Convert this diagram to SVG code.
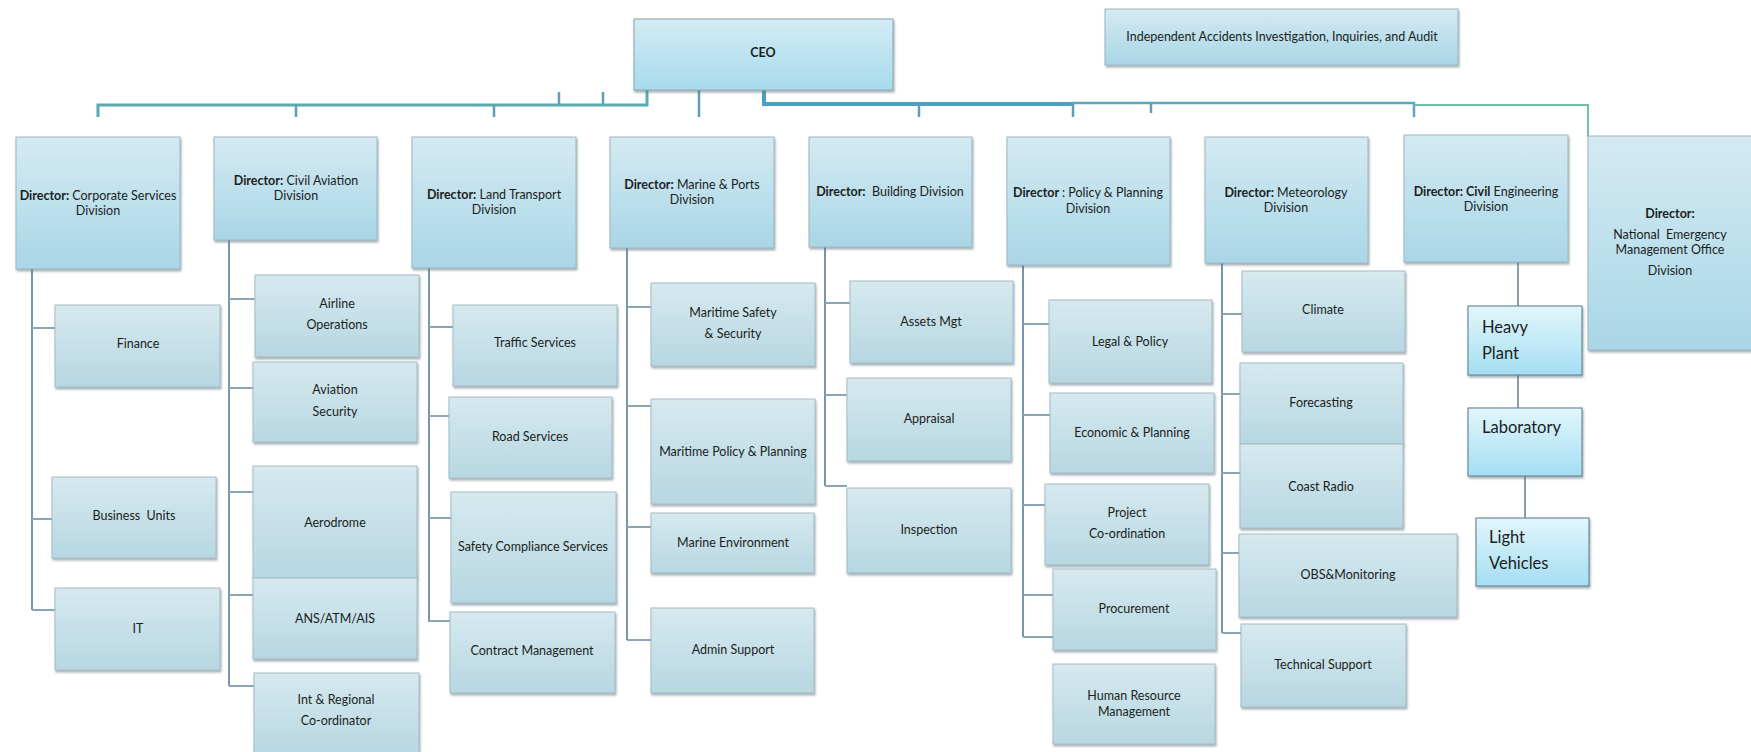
<svg xmlns="http://www.w3.org/2000/svg" width="1751" height="752" viewBox="0 0 1751 752">
<defs>
<linearGradient id="gDir" x1="0" y1="0" x2="0" y2="1"><stop offset="0" stop-color="#d4eaf2"/><stop offset="1" stop-color="#a9d6e7"/></linearGradient>
<linearGradient id="gChild" x1="0" y1="0" x2="0" y2="1"><stop offset="0" stop-color="#d6e9ef"/><stop offset="1" stop-color="#b7d7e2"/></linearGradient>
<linearGradient id="gCeo" x1="0" y1="0" x2="0" y2="1"><stop offset="0" stop-color="#d3ecf5"/><stop offset="1" stop-color="#a7daeb"/></linearGradient>
<linearGradient id="gBright" x1="0" y1="0" x2="0" y2="1"><stop offset="0" stop-color="#e2f6fc"/><stop offset="1" stop-color="#a4def2"/></linearGradient>
<filter id="sh" x="-5%" y="-5%" width="112%" height="115%"><feDropShadow dx="1" dy="2" stdDeviation="1.2" flood-color="#55707c" flood-opacity="0.55"/></filter>
</defs>
<style>
.dir{fill:url(#gDir);stroke:#9fb6c0;stroke-width:1;filter:url(#sh)}
.ch{fill:url(#gChild);stroke:#a7bcc5;stroke-width:1;filter:url(#sh)}
.ceo{fill:url(#gCeo);stroke:#98aeb8;stroke-width:1.2;filter:url(#sh)}
.br{fill:url(#gBright);stroke:#6d8c9c;stroke-width:1.2;filter:url(#sh)}
text{font-family:Lato,"Liberation Sans",sans-serif;fill:#1a1e21}
.t{font-size:12.5px;text-anchor:middle}
.d{font-size:12.5px;text-anchor:middle}
.b{font-weight:bold}
.big{font-size:16.5px;text-anchor:start}
.bus{fill:none;stroke:#5aaab2;stroke-width:3}
.bus2{fill:none;stroke:#4d9fc4;stroke-width:4}
.bus3{fill:none;stroke:#5ea6bf;stroke-width:2.5}
.bus4{fill:none;stroke:#6cc3a5;stroke-width:2}
.tk{fill:none;stroke:#5f9fb0;stroke-width:2.5}
.v{fill:none;stroke:#7497ad;stroke-width:2}
.h{fill:none;stroke:#8aa5b5;stroke-width:2}
.ce{fill:none;stroke:#6a7f8a;stroke-width:1.5}
</style>

<g id="connectors">
<path class="bus" d="M98,117 V105 H647 V90"/>
<path class="tk" d="M296,105 V117 M494,105 V117 M559,92 V104 M603,92 V104"/>
<path class="tk" d="M699,90 V117"/>
<path class="bus2" d="M764,89 V104 H1072"/>
<path class="bus3" d="M1072,103 H1414 V117"/>
<path class="tk" d="M919,104 V117 M1073,104 V117 M1151,103 V113"/>
<path class="bus4" d="M1414,105 H1588 V137"/>
<path class="v" d="M32,269 V610"/>
<path class="h" d="M32,328 H55 M32,519 H52 M32,610 H55"/>
<path class="v" d="M229,240 V686"/>
<path class="h" d="M229,299 H255 M229,388 H253 M229,492 H253 M229,595 H253 M229,686 H254"/>
<path class="v" d="M429,268 V622"/>
<path class="h" d="M429,327 H453 M429,416 H449 M429,518 H451 M429,621 H450"/>
<path class="v" d="M627,248 V640"/>
<path class="h" d="M627,307 H651 M627,406 H651 M627,527 H651 M627,640 H651"/>
<path class="v" d="M825,247 V486"/>
<path class="h" d="M825,303 H850 M825,395 H847 M825,486 H847"/>
<path class="v" d="M1023,265 V637"/>
<path class="h" d="M1023,324 H1049 M1023,415 H1050 M1023,505 H1045 M1023,595 H1053 M1023,637 H1053"/>
<path class="v" d="M1222,263 V633"/>
<path class="h" d="M1222,314 H1242 M1222,394 H1240 M1222,473 H1240 M1222,553 H1239 M1222,633 H1241"/>
<path class="ce" d="M1518,262 V307 M1518,375 V408 M1525,476 V518"/>
</g>

<g id="ceo"><rect class="ceo" x="634" y="19" width="259" height="71"/><text class="t b" x="763" y="57" font-size="12.5px">CEO</text></g>
<g id="independent"><rect class="dir" x="1105" y="9" width="353" height="56"/><text class="t" x="1282" y="41" font-size="11px">Independent Accidents Investigation, Inquiries, and Audit</text></g>

<g id="dir-corporate"><rect class="dir" x="16" y="137" width="164" height="132"/><text class="d" x="98" y="200"><tspan class="b">Director:</tspan> Corporate Services</text><text class="d" x="98" y="215">Division</text></g>
<g id="dir-civil-aviation"><rect class="dir" x="214" y="137" width="163" height="103"/><text class="d" x="296" y="185"><tspan class="b">Director:</tspan> Civil Aviation</text><text class="d" x="296" y="200">Division</text></g>
<g id="dir-land"><rect class="dir" x="412" y="137" width="164" height="131"/><text class="d" x="494" y="199"><tspan class="b">Director:</tspan>  Land Transport</text><text class="d" x="494" y="214">Division</text></g>
<g id="dir-marine"><rect class="dir" x="610" y="137" width="164" height="111"/><text class="d" x="692" y="189"><tspan class="b">Director:</tspan> Marine &amp; Ports</text><text class="d" x="692" y="204">Division</text></g>
<g id="dir-building"><rect class="dir" x="809" y="137" width="163" height="110"/><text class="d" x="890" y="196" xml:space="preserve"><tspan class="b">Director:</tspan>  Building Division</text></g>
<g id="dir-policy"><rect class="dir" x="1007" y="137" width="163" height="128"/><text class="d" x="1088" y="197"><tspan class="b">Director </tspan>: Policy &amp; Planning</text><text class="d" x="1088" y="213">Division</text></g>
<g id="dir-meteorology"><rect class="dir" x="1205" y="137" width="163" height="126"/><text class="d" x="1286" y="197"><tspan class="b">Director:</tspan> Meteorology</text><text class="d" x="1286" y="212">Division</text></g>
<g id="dir-civil-eng"><rect class="dir" x="1404" y="135" width="164" height="127"/><text class="d" x="1486" y="196"><tspan class="b">Director: Civil</tspan> Engineering</text><text class="d" x="1486" y="211">Division</text></g>
<g id="dir-nemo"><rect class="dir" x="1588" y="136" width="175" height="214"/><text class="d b" x="1670" y="218">Director:</text><text class="d" x="1670" y="239" xml:space="preserve">National  Emergency</text><text class="d" x="1670" y="254">Management Office</text><text class="d" x="1670" y="275">Division</text></g>

<g id="finance"><rect class="ch" x="55" y="305" width="165" height="82"/><text class="t" x="138" y="348">Finance</text></g>
<g id="business-units"><rect class="ch" x="52" y="477" width="164" height="81"/><text class="t" x="134" y="520" xml:space="preserve">Business  Units</text></g>
<g id="it"><rect class="ch" x="55" y="588" width="165" height="82"/><text class="t" x="138" y="633">IT</text></g>

<g id="airline-ops"><rect class="ch" x="255" y="275" width="164" height="82"/><text class="t" x="337" y="308">Airline</text><text class="t" x="337" y="329">Operations</text></g>
<g id="aviation-security"><rect class="ch" x="253" y="362" width="164" height="80"/><text class="t" x="335" y="394">Aviation</text><text class="t" x="335" y="416">Security</text></g>
<g id="aerodrome"><rect class="ch" x="253" y="466" width="164" height="112"/><text class="t" x="335" y="527">Aerodrome</text></g>
<g id="ans"><rect class="ch" x="253" y="578" width="164" height="81"/><text class="t" x="335" y="623">ANS/ATM/AIS</text></g>
<g id="int-regional"><rect class="ch" x="254" y="673" width="165" height="82"/><text class="t" x="336" y="704">Int &amp; Regional</text><text class="t" x="336" y="725">Co-ordinator</text></g>

<g id="traffic"><rect class="ch" x="453" y="305" width="164" height="81"/><text class="t" x="535" y="347">Traffic Services</text></g>
<g id="road"><rect class="ch" x="449" y="397" width="163" height="81"/><text class="t" x="530" y="441">Road Services</text></g>
<g id="safety-compliance"><rect class="ch" x="451" y="492" width="165" height="111"/><text class="t" x="533" y="551">Safety Compliance Services</text></g>
<g id="contract"><rect class="ch" x="450" y="612" width="165" height="81"/><text class="t" x="532" y="655">Contract Management</text></g>

<g id="maritime-safety"><rect class="ch" x="651" y="283" width="164" height="83"/><text class="t" x="733" y="317">Maritime Safety</text><text class="t" x="733" y="338">&amp; Security</text></g>
<g id="maritime-policy"><rect class="ch" x="651" y="399" width="164" height="105"/><text class="t" x="733" y="456">Maritime Policy &amp; Planning</text></g>
<g id="marine-env"><rect class="ch" x="651" y="513" width="163" height="60"/><text class="t" x="733" y="547">Marine Environment</text></g>
<g id="admin-support"><rect class="ch" x="651" y="608" width="163" height="85"/><text class="t" x="733" y="654">Admin Support</text></g>

<g id="assets"><rect class="ch" x="850" y="281" width="163" height="82"/><text class="t" x="931" y="326">Assets Mgt</text></g>
<g id="appraisal"><rect class="ch" x="847" y="378" width="164" height="83"/><text class="t" x="929" y="423">Appraisal</text></g>
<g id="inspection"><rect class="ch" x="847" y="488" width="164" height="85"/><text class="t" x="929" y="534">Inspection</text></g>

<g id="legal"><rect class="ch" x="1049" y="300" width="163" height="83"/><text class="t" x="1130" y="346">Legal &amp; Policy</text></g>
<g id="economic"><rect class="ch" x="1050" y="393" width="164" height="80"/><text class="t" x="1132" y="437">Economic &amp; Planning</text></g>
<g id="project"><rect class="ch" x="1045" y="484" width="164" height="81"/><text class="t" x="1127" y="517">Project</text><text class="t" x="1127" y="538">Co-ordination</text></g>
<g id="procurement"><rect class="ch" x="1053" y="569" width="163" height="81"/><text class="t" x="1134" y="613">Procurement</text></g>
<g id="hr"><rect class="ch" x="1053" y="664" width="162" height="80"/><text class="t" x="1134" y="700">Human Resource</text><text class="t" x="1134" y="716">Management</text></g>

<g id="climate"><rect class="ch" x="1242" y="271" width="163" height="81"/><text class="t" x="1323" y="314">Climate</text></g>
<g id="forecasting"><rect class="ch" x="1240" y="363" width="163" height="81"/><text class="t" x="1321" y="407">Forecasting</text></g>
<g id="coast-radio"><rect class="ch" x="1240" y="444" width="163" height="84"/><text class="t" x="1321" y="491">Coast Radio</text></g>
<g id="obs"><rect class="ch" x="1239" y="534" width="218" height="83"/><text class="t" x="1348" y="579">OBS&amp;Monitoring</text></g>
<g id="technical-support"><rect class="ch" x="1241" y="624" width="165" height="83"/><text class="t" x="1323" y="669">Technical Support</text></g>

<g id="heavy-plant"><rect class="br" x="1468" y="306" width="114" height="69"/><text class="big" x="1482" y="333">Heavy</text><text class="big" x="1482" y="359">Plant</text></g>
<g id="laboratory"><rect class="br" x="1468" y="408" width="114" height="68"/><text class="big" x="1482" y="433">Laboratory</text></g>
<g id="light-vehicles"><rect class="br" x="1476" y="518" width="113" height="68"/><text class="big" x="1489" y="543">Light</text><text class="big" x="1489" y="569">Vehicles</text></g>
</svg>
